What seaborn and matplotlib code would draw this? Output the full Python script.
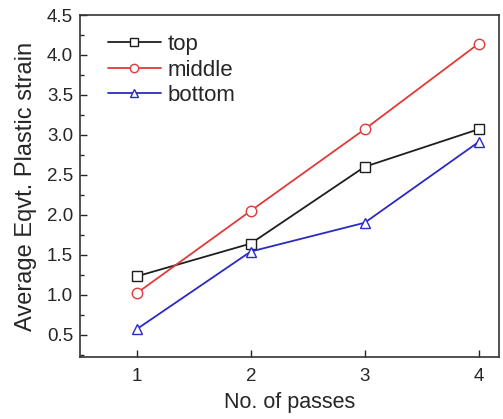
import matplotlib
matplotlib.use("Agg")
import matplotlib.pyplot as plt
from matplotlib.ticker import MultipleLocator
import seaborn as sns
import pandas as pd

passes = [1, 2, 3, 4]
top = [1.23, 1.64, 2.60, 3.07]
middle = [1.02, 2.05, 3.07, 4.14]
bottom = [0.57, 1.54, 1.90, 2.91]
series_names = ["top", "middle", "bottom"]

sns.set_theme(style="ticks")
plt.rcParams['font.family'] = ['Liberation Sans', 'DejaVu Sans']

df = pd.concat([
    pd.DataFrame({"passes": passes, "strain": vals, "pos": name})
    for name, vals in zip(series_names, [top, middle, bottom])
])

fig = plt.figure(figsize=(5.03, 4.19), dpi=100)
ax = fig.add_axes([80/503, 1 - 357/419, (499-80)/503, (357-15)/419])

palette = {"top": "#1e1e1e", "middle": "#e03a3a", "bottom": "#2a2ac4"}
markers = {"top": "s", "middle": "o", "bottom": "^"}
sns.lineplot(data=df, x="passes", y="strain", hue="pos", style="pos",
             palette=palette, markers=markers, dashes=False, ax=ax,
             markersize=7.5, markerfacecolor="white", markeredgewidth=1.0,
             linewidth=1.3)
for line in ax.lines:
    line.set_markeredgecolor(line.get_color())
    line.set_markerfacecolor("white")

ax.set_xlim(0.5, 4.18)
ax.set_ylim(0.22, 4.5)
ax.xaxis.set_major_locator(MultipleLocator(1))
ax.yaxis.set_major_locator(MultipleLocator(0.5))
ax.yaxis.set_minor_locator(MultipleLocator(0.25))
ax.tick_params(axis="both", which="major", direction="in", length=5, labelsize=13.5, width=1)
ax.tick_params(axis="x", which="major", pad=8)
ax.tick_params(axis="y", which="major", pad=5)
ax.tick_params(axis="y", which="minor", direction="in", length=3, width=1)
ax.set_xticks(passes)
ax.set_xticklabels([str(p) for p in passes])
ax.set_xlabel("No. of passes", fontsize=15.5, labelpad=5)
ax.set_ylabel("Average Eqvt. Plastic strain", fontsize=17, labelpad=7)
for s in ax.spines.values():
    s.set_linewidth(1.2)
    s.set_color("#333333")

handles, labels = ax.get_legend_handles_labels()
for h in handles:
    h.set_markerfacecolor("white")
    h.set_markeredgecolor(h.get_color())
ax.legend(handles, labels, loc="upper left", bbox_to_anchor=(0.045, 0.97),
          frameon=False, fontsize=16, handlelength=2.4, handletextpad=0.3,
          labelspacing=0.2, borderaxespad=0.0, markerscale=0.8)

fig.savefig("out.png", dpi=100)
